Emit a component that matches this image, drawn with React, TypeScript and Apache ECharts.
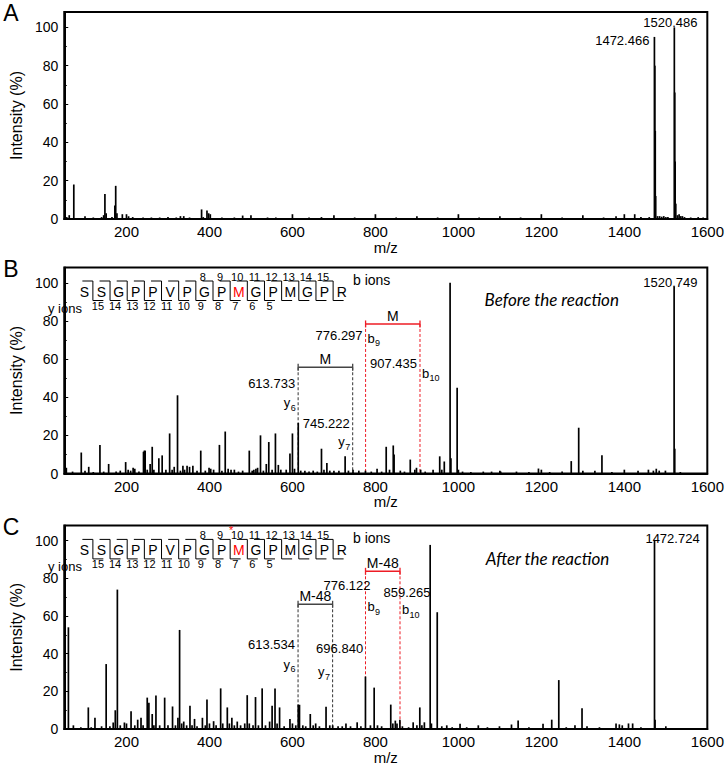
import React, { useEffect, useRef } from "react";
import * as echarts from "echarts";

const X_MIN = 50;
const X_MAX = 1600;
const Y_MAX = 108;
const xTickLabels = [200, 400, 600, 800, 1000, 1200, 1400, 1600];
const panelLetters = ["A", "B", "C"];

// Spectrum A: [m/z, intensity %]
const spectrumA: [number, number][] = [
  [56, 1], [62, 2], [73, 18], [100, 1.5], [120, 0.8], [140, 1], [145, 2], [148, 13], [151, 3], [165, 1],
  [172, 7], [174, 17.3], [177, 3], [190, 2.5], [200, 2.5], [205, 1.5], [215, 1], [240, 0.8], [260, 0.8],
  [280, 0.8], [300, 1], [320, 0.8], [330, 1.5], [338, 1.5], [352, 0.8], [381, 5], [385, 1], [394, 4.5],
  [398, 3], [402, 2.5], [430, 0.8], [460, 0.8], [480, 1.8], [500, 2], [540, 0.8], [560, 0.8], [600, 2.5],
  [640, 0.8], [670, 1], [700, 2], [750, 0.8], [800, 2.5], [850, 0.8], [900, 1.5], [950, 0.8], [1000, 2.5],
  [1050, 0.8], [1100, 1.5], [1150, 0.8], [1200, 2.5], [1250, 0.8], [1300, 2], [1350, 0.8], [1380, 1.5],
  [1400, 2.5], [1425, 2.5], [1440, 1], [1460, 1], [1472.5, 95], [1473.5, 80], [1474.5, 46], [1475.5, 12],
  [1480, 1.5], [1485, 1.5], [1490, 1.2], [1495, 1.5], [1500, 1], [1505, 1], [1520.5, 100], [1521.5, 66],
  [1522.5, 30], [1524, 8], [1528, 2], [1532, 2.5], [1536, 1.5], [1540, 1.5], [1545, 1], [1560, 0.8],
  [1578, 1], [1590, 0.8],
];

// Spectrum B (before the reaction)
const spectrumB: [number, number][] = [
  [52, 15], [55, 3], [70, 1], [91, 11], [100, 1.5], [109, 3.5], [120, 0.8], [136, 15], [145, 1], [157, 5],
  [175, 1], [185, 1.5], [198, 6], [204, 2], [210, 1.5], [216, 3], [220, 2.5], [230, 1], [241, 11.4],
  [243, 12], [245, 12], [250, 2], [257, 5], [262, 14], [266, 2], [278, 8], [286, 9.5], [295, 2], [304, 21],
  [310, 2], [315, 3.5], [323, 41], [330, 1.5], [336, 4], [340, 2], [346, 4], [352, 3.5], [360, 4],
  [370, 1.5], [379, 12], [390, 1.5], [399, 3], [403, 2.5], [410, 2], [424, 15], [430, 1.5], [438, 22],
  [445, 2.5], [452, 2], [460, 2], [470, 1], [480, 1.5], [496, 12], [503, 1.5], [507, 2], [512, 2.5],
  [516, 3], [523, 20], [530, 1.5], [537, 5], [543, 16.5], [551, 2], [559, 21], [566, 4.5], [572, 2],
  [585, 2], [594, 10.5], [600, 21], [605, 2.5], [614, 26.5], [620, 1.5], [630, 1.5], [640, 1], [650, 1.5],
  [660, 1], [670, 13], [676, 2], [683, 5.5], [690, 1.5], [700, 1.5], [712, 1.5], [727, 9], [735, 1.5],
  [746, 2], [760, 1.5], [776, 1.5], [790, 1], [804, 2.5], [815, 1], [826, 14], [834, 2], [843, 14.7],
  [845, 10], [860, 1.5], [870, 1], [884, 7.3], [895, 2], [899, 3], [909, 2], [920, 1], [939, 2], [955, 9],
  [960, 2], [966, 6.3], [980, 100], [982, 8], [997, 45], [1000, 2], [1010, 1], [1030, 0.8], [1060, 1],
  [1080, 1], [1100, 1.5], [1102, 1], [1140, 1], [1170, 0.8], [1193, 2.6], [1200, 2], [1220, 0.8],
  [1250, 1], [1272, 6.5], [1290, 24], [1300, 1.5], [1329, 1.5], [1346, 9.6], [1370, 0.8], [1400, 2],
  [1433, 1.5], [1458, 2], [1470, 1.5], [1477, 2.5], [1484, 1.5], [1499, 1.5], [1520, 98], [1521.5, 13],
  [1535, 0.8],
];

// Spectrum C (after the reaction)
const spectrumC: [number, number][] = [
  [60, 54], [72, 2], [90, 1], [108, 11.5], [115, 1], [124, 6], [140, 1.5], [151, 34.5], [160, 1.5],
  [168, 3.5], [173, 10], [178, 74], [185, 2], [195, 3.5], [200, 3], [211, 9.5], [220, 2], [227, 5],
  [235, 6], [240, 2], [250, 16.7], [254, 14], [262, 8], [266, 2], [271, 17.8], [280, 2], [292, 16.7],
  [300, 2], [311, 12], [318, 2], [324, 6], [328, 52.6], [333, 3], [338, 4], [345, 2], [353, 12.4],
  [358, 2], [364, 5.4], [370, 1.5], [383, 6], [390, 2], [394, 15.7], [400, 3], [410, 4.2], [416, 2],
  [427, 21.6], [432, 3], [443, 11.5], [448, 3], [454, 6], [460, 2], [467, 4], [475, 2], [485, 3],
  [491, 18], [496, 3], [505, 2], [511, 17], [518, 2], [527, 21.6], [535, 2], [545, 4], [551, 12.4],
  [558, 21.6], [563, 3], [569, 11.5], [580, 1.5], [594, 5.4], [600, 3], [608, 2], [614, 13], [617, 12.9],
  [625, 2], [632, 1.5], [643, 8], [650, 2], [656, 3], [665, 1.5], [681, 11.8], [690, 2], [697, 2],
  [710, 1.5], [720, 1.5], [729, 3], [740, 1.5], [756, 3.6], [765, 1.5], [776, 27.9], [788, 2], [797, 22],
  [805, 2], [815, 1.5], [837, 13], [842, 3], [848, 4.5], [852, 3], [859, 5], [865, 1.5], [880, 1],
  [891, 3.6], [900, 2], [907, 11.5], [912, 2], [918, 3.6], [932, 97.7], [935, 3], [949, 62], [960, 1.5],
  [972, 2], [985, 1], [1004, 2.8], [1020, 1], [1048, 2], [1070, 1], [1099, 1.5], [1128, 2.4], [1144, 4.5],
  [1170, 1], [1204, 2.8], [1225, 5], [1242, 26], [1260, 1], [1281, 2], [1298, 11], [1310, 1.5], [1340, 1],
  [1380, 3], [1388, 2.5], [1395, 2], [1410, 3], [1420, 3], [1440, 1], [1472.7, 100], [1474, 5], [1500, 1.5],
];

const spectra = [spectrumA, spectrumB, spectrumC];

// Peak labels
const peakLabels = [
  { panel: 0, text: "1472.466", mz: 1472.466, v: 93, anchor: "right" },
  { panel: 0, text: "1520.486", mz: 1520.486, v: 102.5, anchor: "center" },
  { panel: 1, text: "1520.749", mz: 1520.749, v: 100, anchor: "center" },
  { panel: 2, text: "1472.724", mz: 1472.724, v: 101.3, anchor: "after" },
];

// Fragment ion annotations
const fragments = [
  { panel: 1, mz: 613.733, top: 55.7, text: "613.733", textV: 47.3, textAt: "left", ion: "y", sub: "6", ionV: 37.1, ionAt: "left", red: false },
  { panel: 1, mz: 745.222, top: 55.7, text: "745.222", textV: 26.3, textAt: "left", ion: "y", sub: "7", ionV: 16.7, ionAt: "left", red: false },
  { panel: 1, mz: 776.297, top: 78.4, text: "776.297", textV: 72.6, textAt: "left", ion: "b", sub: "9", ionV: 70.9, ionAt: "right", red: true },
  { panel: 1, mz: 907.435, top: 78.4, text: "907.435", textV: 57.8, textAt: "left", ion: "b", sub: "10", ionV: 52.5, ionAt: "right", red: true },
  { panel: 2, mz: 613.534, top: 66.2, text: "613.534", textV: 44.8, textAt: "left", ion: "y", sub: "6", ionV: 34.4, ionAt: "left", red: false },
  { panel: 2, mz: 696.84, top: 66.2, text: "696.840", textV: 42.5, textAt: "over", ion: "y", sub: "7", ionV: 30.4, ionAt: "left", red: false },
  { panel: 2, mz: 776.122, top: 83.7, text: "776.122", textV: 76.2, textAt: "overLeft", ion: "b", sub: "9", ionV: 65, ionAt: "right", red: true },
  { panel: 2, mz: 859.265, top: 83.7, text: "859.265", textV: 72.2, textAt: "over", ion: "b", sub: "10", ionV: 63.4, ionAt: "right", red: true },
];

const brackets = [
  { panel: 1, from: 613.733, to: 745.222, v: 55.7, label: "M", red: false },
  { panel: 1, from: 776.297, to: 907.435, v: 78.4, label: "M", red: true },
  { panel: 2, from: 613.534, to: 696.84, v: 66.2, label: "M-48", red: false },
  { panel: 2, from: 776.122, to: 859.265, v: 83.7, label: "M-48", red: true },
];

const reactionNotes = [
  { panel: 1, text: "Before the reaction", mz: 1225, v: 91 },
  { panel: 2, text: "After the reaction", mz: 1215, v: 90.3 },
];

const sequence = ["S", "S", "G", "P", "P", "V", "P", "G", "P", "M", "G", "P", "M", "G", "P", "R"];
const bIonNumbers = [8, 9, 10, 11, 12, 13, 14, 15];
const yIonNumbers = [15, 14, 13, 12, 11, 10, 9, 8, 7, 6, 5];

const FONT = "Liberation Sans, Arial, sans-serif";
const RED = "#ee1c25";

export default function App() {
  const ref = useRef<HTMLDivElement>(null);
  useEffect(() => {
    document.body.style.margin = "0";
    const chart = echarts.init(ref.current!, null, { renderer: "svg" });
    const gridDefs = [
      { top: 12, height: 207 },
      { top: 267.5, height: 206 },
      { top: 525.5, height: 208 },
    ];
    const grid = gridDefs.map((g) => ({
      left: 43,
      right: 19,
      top: g.top,
      height: g.height,
      show: true,
      borderColor: "#000",
      borderWidth: 2,
    }));
    const xAxis = gridDefs.map((_, i) => ({
      type: "value",
      gridIndex: i,
      min: X_MIN,
      max: X_MAX,
      name: "m/z",
      nameLocation: "middle",
      nameGap: 18,
      nameTextStyle: { color: "#000", fontSize: 15, fontFamily: FONT },
      axisLine: { show: true, onZero: false, lineStyle: { color: "#000", width: 2 } },
      axisTick: { show: false },
      splitLine: { show: false },
      axisLabel: {
        customValues: xTickLabels,
        color: "#000",
        fontSize: 15,
        fontFamily: FONT,
        margin: 5,
        formatter: (v: number) => String(v),
      },
    }));
    const yAxis = gridDefs.map((_, i) => ({
      type: "value",
      gridIndex: i,
      min: 0,
      max: Y_MAX,
      interval: 20,
      name: "Intensity (%)",
      nameLocation: "middle",
      nameGap: 24,
      nameTextStyle: { color: "#000", fontSize: 16, fontFamily: FONT },
      axisLine: { show: true, lineStyle: { color: "#000", width: 2 } },
      axisTick: { show: true, inside: true, length: 4, lineStyle: { color: "#000" } },
      minorTick: { show: true, splitNumber: 2, length: 2.5, lineStyle: { color: "#000" } },
      splitLine: { show: false },
      axisLabel: {
        color: "#000",
        fontSize: 14,
        fontFamily: FONT,
        margin: 6,
        showMaxLabel: false,
        formatter: (v: number) => (v % 20 === 0 && v <= 100 ? String(v) : ""),
      },
    }));
    const series = spectra.map((d, i) => ({
      type: "bar",
      xAxisIndex: i,
      yAxisIndex: i,
      data: d,
      barWidth: 1.7,
      silent: true,
      itemStyle: { color: "#000" },
    }));
    chart.setOption({ animation: false, grid, xAxis, yAxis, series });

    const P = (g: number, x: number, y: number) =>
      chart.convertToPixel({ gridIndex: g } as any, [x, y]) as number[];
    const els: any[] = [];
    const text = (x: number, y: number, t: string, o: any = {}) =>
      els.push({
        type: "text",
        x,
        y,
        silent: true,
        style: {
          text: t,
          fill: o.fill || "#000",
          fontSize: o.size || 13,
          fontFamily: o.family || FONT,
          fontStyle: o.style || "normal",
          align: o.align || "center",
          verticalAlign: "middle",
          textAlign: o.align || "center",
          textVerticalAlign: "middle",
        },
      });
    const line = (x1: number, y1: number, x2: number, y2: number, stroke: string, w = 1, dash?: number[]) =>
      els.push({
        type: "line",
        silent: true,
        shape: { x1, y1, x2, y2 },
        style: { stroke, lineWidth: w, lineDash: dash || null },
      });

    // panel letters
    gridDefs.forEach((g, i) => text(11, g.top + 1, panelLetters[i], { size: 23, align: "center" }));

    // peak labels
    peakLabels.forEach((p) => {
      const [x, y] = P(p.panel, p.mz, p.v);
      if (p.anchor === "right") text(x - 5, y, p.text, { align: "right" });
      else if (p.anchor === "after") text(x + 18, y, p.text);
      else text(x - 4, y, p.text);
    });

    // dashed lines + fragment labels
    fragments.forEach((f) => {
      const col = f.red ? RED : "#333";
      const [x, yt] = P(f.panel, f.mz, f.top);
      const [, y0] = P(f.panel, f.mz, 0);
      line(x, yt, x, y0, col, 1, [3, 2]);
      const [, ty] = P(f.panel, f.mz, f.textV);
      if (f.textAt === "left") text(x - 3, ty, f.text, { align: "right" });
      else if (f.textAt === "over") text(x + 7, ty, f.text);
      else text(x + 5, ty, f.text, { align: "right" });
      const [, iy] = P(f.panel, f.mz, f.ionV);
      if (f.ionAt === "left") {
        text(x - 8, iy, f.ion, { align: "right" });
        text(x - 7.5, iy + 5, f.sub, { align: "left", size: 9 });
      } else {
        text(x + 2, iy, f.ion, { align: "left" });
        text(x + 9.5, iy + 5, f.sub, { align: "left", size: 9 });
      }
    });

    // brackets
    brackets.forEach((b) => {
      const col = b.red ? RED : "#444";
      const [x1, y] = P(b.panel, b.from, b.v);
      const [x2] = P(b.panel, b.to, b.v);
      line(x1, y, x2, y, col, 1.6);
      line(x1, y - 3.5, x1, y + 3.5, col, 1.3);
      line(x2, y - 3.5, x2, y + 3.5, col, 1.3);
      text((x1 + x2) / 2, y - 8, b.label, { size: 14 });
    });

    // reaction notes
    reactionNotes.forEach((n) => {
      const [x, y] = P(n.panel, n.mz, n.v);
      text(x, y, n.text, { size: 17, style: "italic", family: "Lato, DejaVu Sans, sans-serif" });
    });

    // peptide sequence diagrams
    const x0 = 84.3;
    const dx = 17.16;
    [0, 258.4].forEach((off, si) => {
      const ly = 291.7 + off;
      const yTop = 281 + off;
      const yBot = 300.5 + off;
      sequence.forEach((s, i) => text(x0 + dx * i, ly, s, { size: 14, fill: i === 9 ? "#ff0000" : "#000" }));
      for (let k = 1; k < sequence.length; k++) {
        const sx = x0 + dx * (k - 0.5);
        line(sx, yTop, sx, yBot, "#000", 1);
        line(sx - 10.5, yTop, sx, yTop, "#000", 1);
        line(sx, yBot, sx + 10.5, yBot, "#000", 1);
      }
      bIonNumbers.forEach((n) => text(x0 + dx * (n - 1) - 1.5, 276.5 + off, String(n), { size: 11 }));
      yIonNumbers.forEach((n) => text(x0 + dx * (16 - n) - 3.5, 305.5 + off, String(n), { size: 11 }));
      text(353, 280 + off, "b ions", { size: 14, align: "left" });
      text(48, 308 + off, "y ions", { size: 13, align: "left" });
      if (si === 1) text(x0 + dx * 9 - 7.5, 529.5, "*", { size: 11, fill: "#ff0000" });
    });

    chart.setOption({ graphic: { elements: els } });
    return () => chart.dispose();
  }, []);
  return <div ref={ref} style={{ width: 727, height: 766 }} />;
}
